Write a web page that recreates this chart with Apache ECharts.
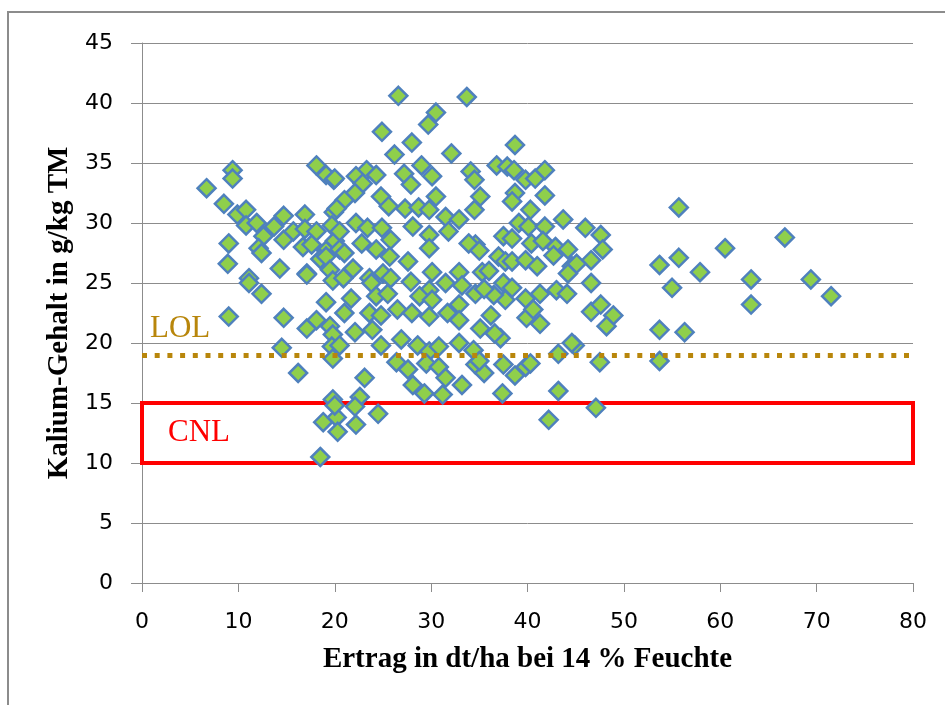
<!DOCTYPE html>
<html>
<head>
<meta charset="utf-8">
<script src="https://cdn.jsdelivr.net/npm/echarts@6/dist/echarts.min.js"></script>
<style>
  html, body { margin: 0; padding: 0; background: #fff; }
  #chart { width: 945px; height: 705px; }
</style>
</head>
<body>
<div id="chart"></div>
<script>
// Achsen
const xTicks = [0, 10, 20, 30, 40, 50, 60, 70, 80]
const yTicks = [0, 5, 10, 15, 20, 25, 30, 35, 40, 45]

// Grenzwerte
const lolWert = 19
const cnlBereich = [10, 15]

// Messpunkte [Ertrag dt/ha, Kalium g/kg TM]
const punkte = [
  [6.7, 32.9], [8.5, 31.6], [9.4, 34.4], [9.4, 33.7], [9.9, 30.7], [10.8, 31.1], [10.8, 29.8],
  [11.9, 30.0], [12.6, 28.9], [9.0, 28.3], [8.9, 26.6], [12.1, 27.9], [12.4, 27.5], [14.3, 26.2],
  [11.1, 25.4], [13.7, 29.7], [14.7, 30.6], [14.7, 28.6], [15.7, 29.3], [16.9, 30.7], [16.9, 29.5],
  [18.1, 29.3], [16.7, 28.0], [17.6, 28.2], [19.1, 27.7], [17.1, 25.8], [18.5, 27.0], [18.1, 34.8],
  [19.1, 34.0], [19.9, 33.6], [19.9, 30.9], [19.7, 29.8], [20.0, 28.5], [19.1, 27.2], [19.5, 26.1],
  [19.8, 25.2],
  [11.1, 25.0], [12.4, 24.1], [9.0, 22.2], [14.7, 22.1], [14.5, 19.6], [16.2, 17.5], [17.1, 25.7],
  [19.1, 23.4], [18.1, 21.9], [17.1, 21.2], [19.5, 21.4], [19.8, 20.7], [19.7, 19.7], [19.8, 18.7],
  [19.8, 15.3], [18.8, 13.4], [20.2, 13.8], [20.3, 12.6], [18.5, 10.5], [20.0, 14.8],
  [26.6, 40.6], [33.7, 40.5], [30.5, 39.2], [29.7, 38.2], [24.9, 37.6], [28.0, 36.7], [26.2, 35.7],
  [32.1, 35.8], [23.3, 34.4], [24.3, 34.0], [22.2, 33.9], [20.0, 33.7], [27.2, 34.1], [29.0, 34.8],
  [30.1, 33.9], [34.1, 34.3], [34.5, 33.6], [22.9, 33.3], [22.1, 32.5], [21.0, 31.9], [20.2, 31.2],
  [27.9, 33.2], [24.8, 32.2], [25.6, 31.4], [27.3, 31.2], [28.7, 31.3], [30.5, 32.2], [29.8, 31.1],
  [31.5, 30.5], [32.9, 30.3], [35.1, 32.2], [34.5, 31.1], [22.2, 30.0], [20.5, 29.3], [23.4, 29.6],
  [24.9, 29.6], [25.8, 28.6], [28.1, 29.7], [29.8, 29.0], [31.8, 29.3], [20.5, 27.8], [21.0, 27.5],
  [22.8, 28.3], [24.3, 27.8], [25.7, 27.2], [29.8, 27.9], [34.6, 28.2], [33.9, 28.3], [27.6, 26.8],
  [21.9, 26.2], [25.0, 25.8], [30.1, 25.9], [32.9, 25.9], [35.3, 25.9], [23.6, 25.4],
  [20.9, 25.4], [23.8, 25.0], [25.8, 25.4], [27.9, 25.1], [29.8, 24.4], [31.5, 25.0], [33.2, 24.8],
  [34.6, 24.1], [21.7, 23.7], [24.3, 23.9], [25.5, 24.1], [28.8, 23.9], [30.1, 23.6], [32.9, 23.2],
  [21.0, 22.5], [23.6, 22.5], [24.8, 22.3], [26.5, 22.8], [28.0, 22.5], [29.8, 22.2], [31.7, 22.5],
  [32.9, 21.9], [35.1, 21.2], [22.1, 20.9], [23.9, 21.1], [20.5, 19.8], [24.8, 19.8], [26.9, 20.3],
  [28.6, 19.8], [29.8, 19.3], [30.8, 19.7], [32.9, 20.0], [34.4, 19.4], [26.4, 18.4], [27.6, 17.8],
  [29.5, 18.3], [30.8, 18.0], [34.6, 18.2], [23.1, 17.1], [28.1, 16.5], [29.3, 15.8], [31.5, 17.1],
  [31.2, 15.7], [33.2, 16.5], [22.6, 15.5], [22.1, 14.7], [24.5, 14.1], [22.2, 13.2],
  [38.7, 36.5], [36.8, 34.8], [37.9, 34.7], [38.6, 34.4], [39.8, 33.6], [40.8, 33.7], [41.8, 34.4],
  [38.7, 32.5], [38.4, 31.8], [41.8, 32.3], [40.3, 31.1], [39.1, 30.0], [40.1, 29.7], [41.8, 29.7],
  [43.7, 30.3], [46.0, 29.6], [47.6, 29.0], [37.5, 28.9], [38.4, 28.7], [40.4, 28.3], [41.6, 28.5],
  [42.9, 28.0], [44.2, 27.8], [47.8, 27.8], [46.6, 26.9], [37.0, 27.2], [37.7, 26.8], [38.4, 26.8],
  [39.8, 26.9], [41.0, 26.4], [42.7, 27.3], [44.6, 26.4], [45.1, 26.6], [35.0, 27.7], [36.0, 26.0],
  [37.5, 25.0], [38.4, 24.6], [37.7, 23.6], [39.8, 23.7], [41.3, 24.1], [43.0, 24.4], [44.1, 24.1],
  [44.2, 25.8], [46.6, 25.0], [46.6, 22.6], [47.6, 23.2], [48.9, 22.3], [48.2, 21.4], [36.2, 22.3],
  [39.9, 22.1], [40.6, 22.8], [41.3, 21.6], [37.2, 20.4], [37.5, 18.2], [38.7, 17.3], [39.8, 18.0],
  [40.3, 18.3], [43.2, 19.1], [44.9, 19.8], [44.6, 20.0], [47.5, 18.4], [43.2, 16.0], [37.4, 15.8],
  [42.2, 13.6], [47.1, 14.6], [35.5, 17.5], [35.0, 18.5], [36.5, 24.0], [35.5, 24.5], [36.6, 20.8],
  [53.7, 26.5], [53.7, 21.1], [53.7, 18.5], [55.0, 24.6], [55.7, 31.3], [55.7, 27.1], [56.3, 20.9],
  [57.9, 25.9], [60.5, 27.9], [63.2, 25.3], [63.2, 23.2], [66.7, 28.8], [69.4, 25.3], [71.5, 23.9]
]

const chart = echarts.init(document.getElementById('chart'))

const tickFont = { color: '#000', fontFamily: 'DejaVu Sans', fontSize: 22 }
const titleFont = { color: '#000', fontFamily: 'Liberation Serif', fontSize: 29, fontWeight: 'bold' }

chart.setOption({
  animation: false,
  backgroundColor: '#fff',
  graphic: [{
    type: 'rect',
    shape: { x: 8, y: 12, width: 1000, height: 1000 },
    style: { fill: 'none', stroke: '#8c8c8c', lineWidth: 2 },
    silent: true
  }],
  grid: { left: 142, right: 32, top: 43, bottom: 122 },
  xAxis: {
    type: 'value',
    min: xTicks[0],
    max: xTicks[xTicks.length - 1],
    interval: 10,
    name: 'Ertrag in dt/ha bei 14 % Feuchte',
    nameLocation: 'middle',
    nameGap: 62,
    nameTextStyle: titleFont,
    axisLine: { lineStyle: { color: '#8c8c8c', width: 1 } },
    axisTick: { show: true, length: 9, lineStyle: { color: '#8c8c8c' } },
    axisLabel: Object.assign({ margin: 28 }, tickFont),
    splitLine: { show: false }
  },
  yAxis: {
    type: 'value',
    min: yTicks[0],
    max: yTicks[yTicks.length - 1],
    interval: 5,
    name: 'Kalium-Gehalt in g/kg TM',
    nameLocation: 'middle',
    nameGap: 68,
    nameTextStyle: titleFont,
    axisLine: { show: true, lineStyle: { color: '#8c8c8c', width: 1 } },
    axisTick: { show: true, length: 11, lineStyle: { color: '#8c8c8c' } },
    axisLabel: Object.assign({ margin: 29 }, tickFont),
    splitLine: { lineStyle: { color: '#8c8c8c', width: 1 } }
  },
  series: [{
    type: 'scatter',
    data: punkte,
    symbol: 'diamond',
    symbolSize: 18,
    itemStyle: { color: '#8FCF4B', borderColor: '#4F81BD', borderWidth: 2.5, opacity: 1 },
    markArea: {
      silent: true,
      itemStyle: { color: 'rgba(0,0,0,0)', borderColor: '#FF0000', borderWidth: 4 },
      label: {
        show: true,
        position: 'insideLeft',
        distance: 28,
        color: '#FF0000',
        fontFamily: 'Liberation Serif',
        fontSize: 31
      },
      data: [[
        { name: 'CNL', coord: [xTicks[0], cnlBereich[1]] },
        { coord: [xTicks[xTicks.length - 1], cnlBereich[0]] }
      ]]
    },
    markLine: {
      silent: true,
      symbol: 'none',
      lineStyle: { color: '#B8860B', width: 5, type: [5, 7.7], cap: 'butt' },
      label: {
        show: true,
        position: 'insideStartTop',
        distance: [8, 11],
        formatter: 'LOL',
        color: '#B8860B',
        fontFamily: 'Liberation Serif',
        fontSize: 31
      },
      data: [{ yAxis: lolWert }]
    }
  }]
})
</script>
</body>
</html>
